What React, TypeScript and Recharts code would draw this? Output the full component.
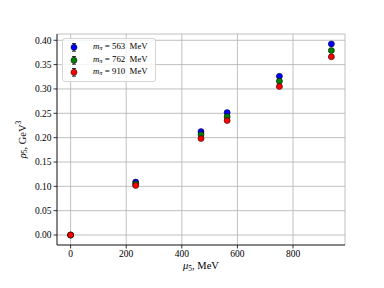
import {
  ScatterChart,
  Scatter,
  XAxis,
  YAxis,
  CartesianGrid,
  ErrorBar,
  Label,
} from 'recharts';

// mu5 values (MeV) shared by all three series
const mu5 = [0, 234, 469, 563, 751, 938];

const rho563 = [0.0, 0.1087, 0.2124, 0.2515, 0.326, 0.3925];
const rho762 = [0.0, 0.105, 0.206, 0.243, 0.316, 0.379];
const rho910 = [0.0, 0.1016, 0.198, 0.235, 0.305, 0.366];
const rhoErr = [0.001, 0.0015, 0.0015, 0.0015, 0.0015, 0.0015];

const xTicks = [0, 200, 400, 600, 800];
const yTicks = [0, 0.05, 0.1, 0.15, 0.2, 0.25, 0.3, 0.35, 0.4];

const series = [
  { mpi: '563', color: '#0000ff', values: rho563 },
  { mpi: '762', color: '#008000', values: rho762 },
  { mpi: '910', color: '#ff0000', values: rho910 },
];

const FONT = '"Liberation Serif", "DejaVu Serif", serif';

const toPoints = (values: number[]) =>
  mu5.map((x, i) => ({ x, y: values[i], err: rhoErr[i] }));

function Dot(props: any) {
  const { cx, cy, fill } = props;
  if (cx == null || cy == null) return null;
  return <circle cx={cx} cy={cy} r={3} fill={fill} stroke="#000" strokeWidth={0.5} />;
}

function LegendBox() {
  return (
    <div
      style={{
        position: 'absolute',
        left: 62,
        top: 38,
        border: '1px solid #d6d6d6',
        borderRadius: 3,
        background: 'rgba(255,255,255,0.8)',
        padding: '2px 7px 2px 4px',
        fontFamily: FONT,
        fontSize: 8.8,
        lineHeight: '10.7px',
      }}
    >
      {series.map((s) => (
        <div key={s.mpi} style={{ display: 'flex', alignItems: 'center', whiteSpace: 'nowrap' }}>
          <svg width={14} height={10.7} style={{ marginRight: 12 }}>
            <line x1={7} y1={1.5} x2={7} y2={9.2} stroke="#000" strokeWidth={0.8} />
            <line x1={5} y1={1.5} x2={9} y2={1.5} stroke="#000" strokeWidth={0.8} />
            <line x1={5} y1={9.2} x2={9} y2={9.2} stroke="#000" strokeWidth={0.8} />
            <circle cx={7} cy={5.35} r={3} fill={s.color} stroke="#000" strokeWidth={0.5} />
          </svg>
          <span>
            <i>m</i>
            <sub style={{ fontSize: 6.5, verticalAlign: '-1px' }}>
              <i>π</i>
            </sub>
            {' '}= {s.mpi}&nbsp;&nbsp;MeV
          </span>
        </div>
      ))}
    </div>
  );
}

function YTitle(props: any) {
  const { viewBox } = props;
  const cy = viewBox.y + viewBox.height / 2;
  const cx = 22;
  return (
    <text
      x={cx}
      y={cy}
      transform={`rotate(-90, ${cx}, ${cy})`}
      textAnchor="middle"
      dominantBaseline="central"
      fontFamily={FONT}
      fontSize={10.5}
      fill="#000"
    >
      <tspan fontStyle="italic">ρ</tspan>
      <tspan fontSize={7.5} dy={2}>5</tspan>
      <tspan dy={-2}>, GeV</tspan>
      <tspan fontSize={7.5} dy={-4}>3</tspan>
    </text>
  );
}

function XTitle(props: any) {
  const { viewBox } = props;
  const cx = viewBox.x + viewBox.width / 2;
  return (
    <text x={cx} y={269} textAnchor="middle" fontFamily={FONT} fontSize={10.5} fill="#000">
      <tspan fontStyle="italic">μ</tspan>
      <tspan fontSize={7.5} dy={2}>5</tspan>
      <tspan dy={-2}>, MeV</tspan>
    </text>
  );
}

const tickStyle = { fill: '#000', fontSize: 9.5, fontFamily: FONT };

export default function App() {
  return (
    <div style={{ position: 'absolute', left: 0, top: 0, width: 384, height: 288, background: '#fff' }}>
      <ScatterChart width={384} height={288} margin={{ top: 34, right: 39, bottom: 13, left: 17 }}>
        <CartesianGrid stroke="#b0b0b0" strokeWidth={0.8} />
        <XAxis
          type="number"
          dataKey="x"
          domain={[-49, 987]}
          ticks={xTicks}
          height={30}
          tick={tickStyle}
          tickSize={3.5}
          tickMargin={2}
          axisLine={{ stroke: '#000', strokeWidth: 0.8 }}
          tickLine={{ stroke: '#000', strokeWidth: 0.8 }}
          allowDataOverflow
        >
          <Label content={XTitle} />
        </XAxis>
        <XAxis
          xAxisId="top"
          orientation="top"
          type="number"
          dataKey="x"
          domain={[-49, 987]}
          height={0}
          tick={false}
          tickLine={false}
          axisLine={{ stroke: '#000', strokeWidth: 0.8 }}
        />
        <YAxis
          type="number"
          dataKey="y"
          domain={[-0.0205, 0.4129]}
          ticks={yTicks}
          width={40}
          tick={tickStyle}
          tickSize={3.5}
          tickMargin={2}
          tickFormatter={(v: number) => v.toFixed(2)}
          axisLine={{ stroke: '#000', strokeWidth: 0.8 }}
          tickLine={{ stroke: '#000', strokeWidth: 0.8 }}
          allowDataOverflow
        >
          <Label content={YTitle} />
        </YAxis>
        <YAxis
          yAxisId="right"
          orientation="right"
          type="number"
          dataKey="y"
          domain={[-0.0205, 0.4129]}
          width={0}
          tick={false}
          tickLine={false}
          axisLine={{ stroke: '#000', strokeWidth: 0.8 }}
        />
        {series.map((s) => (
          <Scatter
            key={s.mpi}
            name={`m_pi = ${s.mpi} MeV`}
            data={toPoints(s.values)}
            fill={s.color}
            shape={Dot}
            isAnimationActive={false}
          >
            <ErrorBar dataKey="err" direction="y" width={3} stroke="#000" strokeWidth={0.6} />
          </Scatter>
        ))}
      </ScatterChart>
      <LegendBox />
    </div>
  );
}
